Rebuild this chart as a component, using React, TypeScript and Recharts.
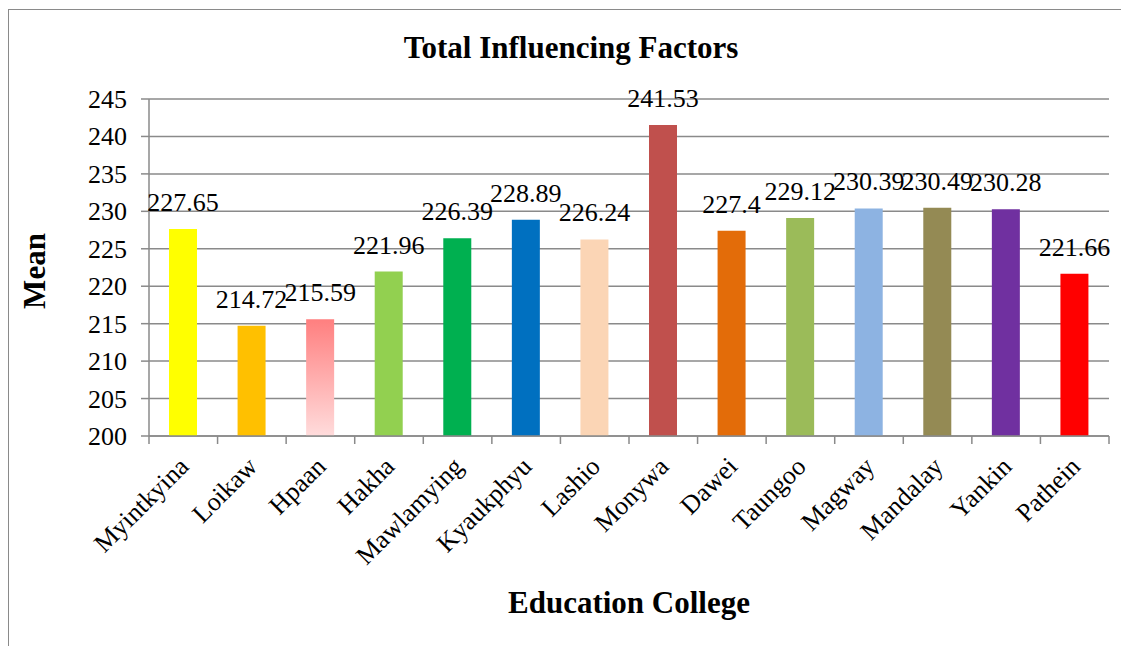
import { Bar, BarChart, CartesianGrid, Cell, LabelList, XAxis, YAxis } from 'recharts';

const categories = [
  'Myintkyina', 'Loikaw', 'Hpaan', 'Hakha', 'Mawlamying', 'Kyaukphyu', 'Lashio',
  'Monywa', 'Dawei', 'Taungoo', 'Magway', 'Mandalay', 'Yankin', 'Pathein',
];
const means = [227.65, 214.72, 215.59, 221.96, 226.39, 228.89, 226.24, 241.53, 227.4, 229.12, 230.39, 230.49, 230.28, 221.66];
const barColors = [
  '#FFFF00', '#FFC000', 'url(#hpaanFill)', '#92D050', '#00B050', '#0070C0', '#FBD5B5',
  '#C0504D', '#E36C09', '#9BBB59', '#8DB3E2', '#948A54', '#7030A0', '#FF0000',
];
const yTicks = [200, 205, 210, 215, 220, 225, 230, 235, 240, 245];

const data = categories.map((name, i) => ({ name, mean: means[i] }));

const W = 1121;
const H = 638;
const M = { top: 91, right: 20, bottom: 60, left: 61 };
const Y_W = 80;
const X_H = 150;
const PLOT_W = W - M.left - M.right - Y_W;
const STEP = PLOT_W / categories.length;
const FONT = '"Liberation Serif", "Times New Roman", serif';
const GRID = '#8a8a8a';

function XTick(props: any) {
  const { x, y, payload, index } = props;
  const last = index === categories.length - 1;
  const tx = x + 7;
  const ty = y + 32;
  return (
    <g>
      <line x1={x - STEP / 2} y1={y} x2={x - STEP / 2} y2={y + 8} stroke={GRID} strokeWidth={1.5} />
      {last && <line x1={x + STEP / 2} y1={y} x2={x + STEP / 2} y2={y + 8} stroke={GRID} strokeWidth={1.5} />}
      <text
        x={tx}
        y={ty}
        transform={`rotate(-45, ${tx}, ${ty})`}
        textAnchor="end"
        fill="#000"
        fontSize={26}
        fontFamily={FONT}
      >
        {payload.value}
      </text>
    </g>
  );
}

function YTick(props: any) {
  const { x, y, payload } = props;
  return (
    <text x={x} y={y + 9} textAnchor="end" fill="#000" fontSize={26} fontFamily={FONT}>
      {payload.value}
    </text>
  );
}

function ValueLabel(props: any) {
  const { x, y, width, value } = props;
  return (
    <text x={x + width / 2} y={y - 18} textAnchor="middle" fill="#000" fontSize={26} fontFamily={FONT}>
      {value}
    </text>
  );
}

export default function App() {
  return (
    <div style={{ position: 'relative', width: W, height: H, background: '#fff' }}>
      <svg width={0} height={0} style={{ position: 'absolute' }}>
        <defs>
          <linearGradient id="hpaanFill" x1="0" y1="0" x2="0" y2="1">
            <stop offset="0%" stopColor="#FF7F7F" />
            <stop offset="100%" stopColor="#FFDCDC" />
          </linearGradient>
        </defs>
      </svg>
      <div
        style={{
          position: 'absolute', left: 0, top: 1, width: W, height: H - 1, boxSizing: 'border-box',
          borderTop: '1.5px solid #8a8a8a', borderLeft: '1.5px solid #8a8a8a',
        }}
      />
      <BarChart width={W} height={H} data={data} margin={M} style={{ position: 'absolute', left: 0, top: 0 }}>
        <CartesianGrid vertical={false} stroke={GRID} strokeWidth={1.5} />
        <XAxis
          dataKey="name"
          interval={0}
          height={X_H}
          tickSize={0}
          tickMargin={0}
          tick={<XTick />}
          axisLine={{ stroke: GRID, strokeWidth: 1.5 }}
        />
        <YAxis
          domain={[200, 245]}
          ticks={yTicks}
          width={Y_W}
          tickSize={8}
          tickMargin={14}
          tick={<YTick />}
          tickLine={{ stroke: GRID, strokeWidth: 1.5 }}
          axisLine={{ stroke: GRID, strokeWidth: 1.5 }}
        />
        <Bar dataKey="mean" barSize={28} isAnimationActive={false}>
          {data.map((d, i) => (
            <Cell key={d.name} fill={barColors[i]} />
          ))}
          <LabelList dataKey="mean" content={<ValueLabel />} />
        </Bar>
      </BarChart>
      <svg width={W} height={H} style={{ position: 'absolute', left: 0, top: 0, pointerEvents: 'none' }}>
        <text x={563} y={50} textAnchor="middle" fontSize={31} fontWeight="bold" fontFamily={FONT}>
          Total Influencing Factors
        </text>
        <text x={621} y={605} textAnchor="middle" fontSize={31} fontWeight="bold" fontFamily={FONT}>
          Education College
        </text>
        <text
          x={37}
          y={263}
          transform="rotate(-90, 37, 263)"
          textAnchor="middle"
          fontSize={31}
          fontWeight="bold"
          fontFamily={FONT}
        >
          Mean
        </text>
      </svg>
    </div>
  );
}
